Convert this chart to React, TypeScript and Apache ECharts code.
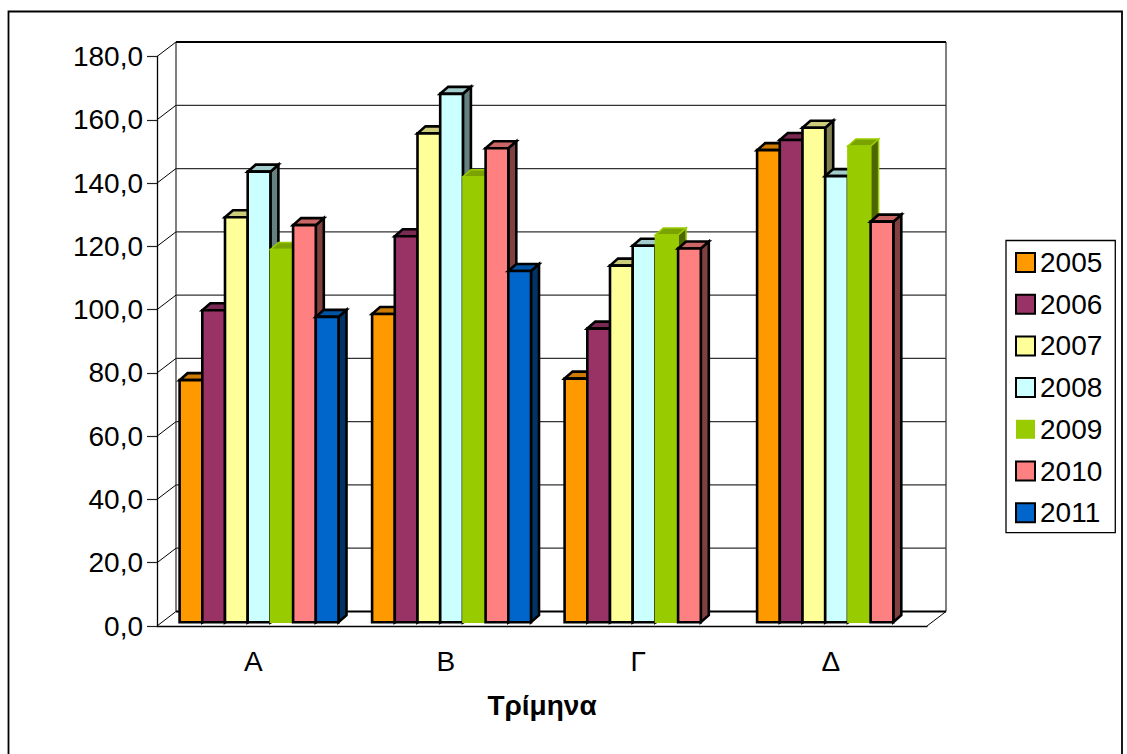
import React, { useEffect, useRef } from "react";
import * as echarts from "echarts";

const categories = ["Α", "Β", "Γ", "Δ"];
const years = ["2005", "2006", "2007", "2008", "2009", "2010", "2011"];
const v2005 = [76.5, 97.4, 77, 149.2];
const v2006 = [98.6, 122, 92.8, 152.4];
const v2007 = [128, 154.5, 112.7, 156.3];
const v2008 = [142.4, 167, 119, 141];
const v2009 = [117.8, 140.8, 122.4, 150.5];
const v2010 = [125.5, 149.8, 118.1, 126.6];
const v2011 = [96.5, 111, null, null];
const allValues = [v2005, v2006, v2007, v2008, v2009, v2010, v2011];
const ticks = [0, 20, 40, 60, 80, 100, 120, 140, 160, 180];
const fills = ["#FF9900", "#993366", "#FFFF99", "#CCFFFF", "#99CC00", "#FF8080", "#0066CC"];
const tops = ["#CC7A00", "#7A2952", "#CCCC7A", "#A3CCCC", "#7AA300", "#CC6666", "#0052A3"];
const sides = ["#805000", "#4D1A33", "#808050", "#668080", "#4D6600", "#804040", "#003366"];
const strokes = ["#000", "#000", "#000", "#000", "#99CC00", "#000", "#000"];

const FONT = '"Liberation Sans", Arial, sans-serif';
const DX = 19, DY = 14.5;
const BAR_W = 22.7, BAR_DX = 8, BAR_DY = 7, GROUP_PAD = 22.6, BAR_OY = 3.8;

export default function App() {
  const ref = useRef<HTMLDivElement>(null);
  useEffect(() => {
    document.body.style.margin = "0";
    const chart = echarts.init(ref.current!, undefined, { renderer: "svg" });

    const wallSeries: any = {
      type: "custom",
      name: "walls",
      silent: true,
      z: 1,
      coordinateSystem: "cartesian2d",
      data: ticks.map((t) => [0, t]),
      renderItem: (_p: any, api: any) => {
        const v = api.value(1);
        const band = api.size([1, 0])[0];
        const first = api.coord([0, v]);
        const last = api.coord([categories.length - 1, v]);
        const x0 = first[0] - band / 2;
        const x1 = last[0] + band / 2;
        const y = first[1];
        const heavy = v === 0 || v === 180;
        const children: any[] = [
          { type: "line", shape: { x1: x0 + DX, y1: y - DY, x2: x1 + DX, y2: y - DY }, style: { stroke: heavy ? "#000" : "#333", lineWidth: heavy ? 2 : 1.3 } },
          { type: "line", shape: { x1: x0, y1: y, x2: x0 + DX, y2: y - DY }, style: { stroke: "#000", lineWidth: 1 } },
        ];
        if (v === 0) {
          const top = api.coord([0, 180])[1];
          children.push(
            { type: "line", shape: { x1: x0 + DX, y1: y - DY, x2: x0 + DX, y2: top - DY }, style: { stroke: "#000", lineWidth: 1 } },
            { type: "line", shape: { x1: x1 + DX, y1: y - DY, x2: x1 + DX, y2: top - DY }, style: { stroke: "#000", lineWidth: 1 } },
            { type: "line", shape: { x1: x1, y1: y, x2: x1 + DX, y2: y - DY }, style: { stroke: "#000", lineWidth: 1 } },
          );
        }
        return { type: "group", children };
      },
    };

    const barSeries: any[] = years.map((year, si) => ({
      type: "custom",
      name: year,
      z: 3 + si,
      coordinateSystem: "cartesian2d",
      data: allValues[si].map((v, i) => [i, v]),
      encode: { x: 0, y: 1 },
      itemStyle: { color: fills[si] },
      renderItem: (_p: any, api: any) => {
        const val = api.value(1);
        if (val == null || isNaN(val)) return null;
        const cat = api.value(0);
        const band = api.size([1, 0])[0];
        const c = api.coord([cat, val]);
        const base = api.coord([cat, 0]);
        const l = c[0] - band / 2 + GROUP_PAD + si * BAR_W;
        const r = l + BAR_W;
        const t = c[1] - BAR_OY;
        const b = base[1] - BAR_OY;
        const lw = si === 4 ? 1.5 : 2.6;
        const common = { stroke: strokes[si], lineWidth: lw, lineJoin: "miter" };
        return {
          type: "group",
          children: [
            { type: "polygon", shape: { points: [[r, t], [r + BAR_DX, t - BAR_DY], [r + BAR_DX, b - BAR_DY], [r, b]] }, style: { ...common, fill: sides[si] } },
            { type: "polygon", shape: { points: [[l, t], [l + BAR_DX, t - BAR_DY], [r + BAR_DX, t - BAR_DY], [r, t]] }, style: { ...common, fill: tops[si] } },
            { type: "rect", shape: { x: l, y: t, width: BAR_W, height: b - t }, style: { ...common, fill: fills[si] } },
          ],
        };
      },
    }));

    chart.setOption({
      animation: false,
      backgroundColor: "#fff",
      textStyle: { fontFamily: FONT },
      grid: { left: 157, top: 56.5, width: 770, height: 569.5 },
      xAxis: {
        type: "category",
        data: categories,
        boundaryGap: true,
        z: 2,
        axisLine: { lineStyle: { color: "#000", width: 1.3 } },
        axisTick: { length: 11, lineStyle: { color: "#222", width: 1.2 } },
        axisLabel: { color: "#000", fontSize: 28, margin: 21, fontFamily: FONT },
        name: "Τρίμηνα",
        nameLocation: "middle",
        nameGap: 65,
        nameTextStyle: { color: "#000", fontSize: 28, fontWeight: "bold", fontFamily: FONT },
      },
      yAxis: {
        type: "value",
        min: 0,
        max: 180,
        interval: 20,
        z: 2,
        splitLine: { show: false },
        axisLine: { show: true, lineStyle: { color: "#000", width: 1.3 } },
        axisTick: { show: true, length: 10, lineStyle: { color: "#222", width: 1.2 } },
        axisLabel: {
          color: "#000",
          fontSize: 28,
          margin: 14,
          fontFamily: FONT,
          formatter: (v: number) => v.toFixed(1).replace(".", ","),
        },
      },
      legend: {
        orient: "vertical",
        left: 1006,
        top: 240.5,
        padding: [8, 13, 6, 9],
        itemWidth: 19,
        itemHeight: 19,
        itemGap: 13.7,
        borderColor: "#000",
        borderWidth: 1.3,
        backgroundColor: "#fff",
        textStyle: { color: "#000", fontSize: 28, fontFamily: FONT },
        data: years.map((y, i) => ({
          name: y,
          icon: "rect",
          itemStyle: { color: fills[i], borderColor: strokes[i], borderWidth: i === 4 ? 0 : 2 },
        })),
      },
      graphic: [
        {
          type: "rect",
          z: -1,
          silent: true,
          shape: { x: 8.5, y: 11.5, width: 1113.5, height: 770 },
          style: { fill: "none", stroke: "#000", lineWidth: 1.8 },
        },
      ],
      series: [wallSeries, ...barSeries],
    });
    return () => chart.dispose();
  }, []);
  return <div ref={ref} style={{ width: 1127, height: 754 }} />;
}
